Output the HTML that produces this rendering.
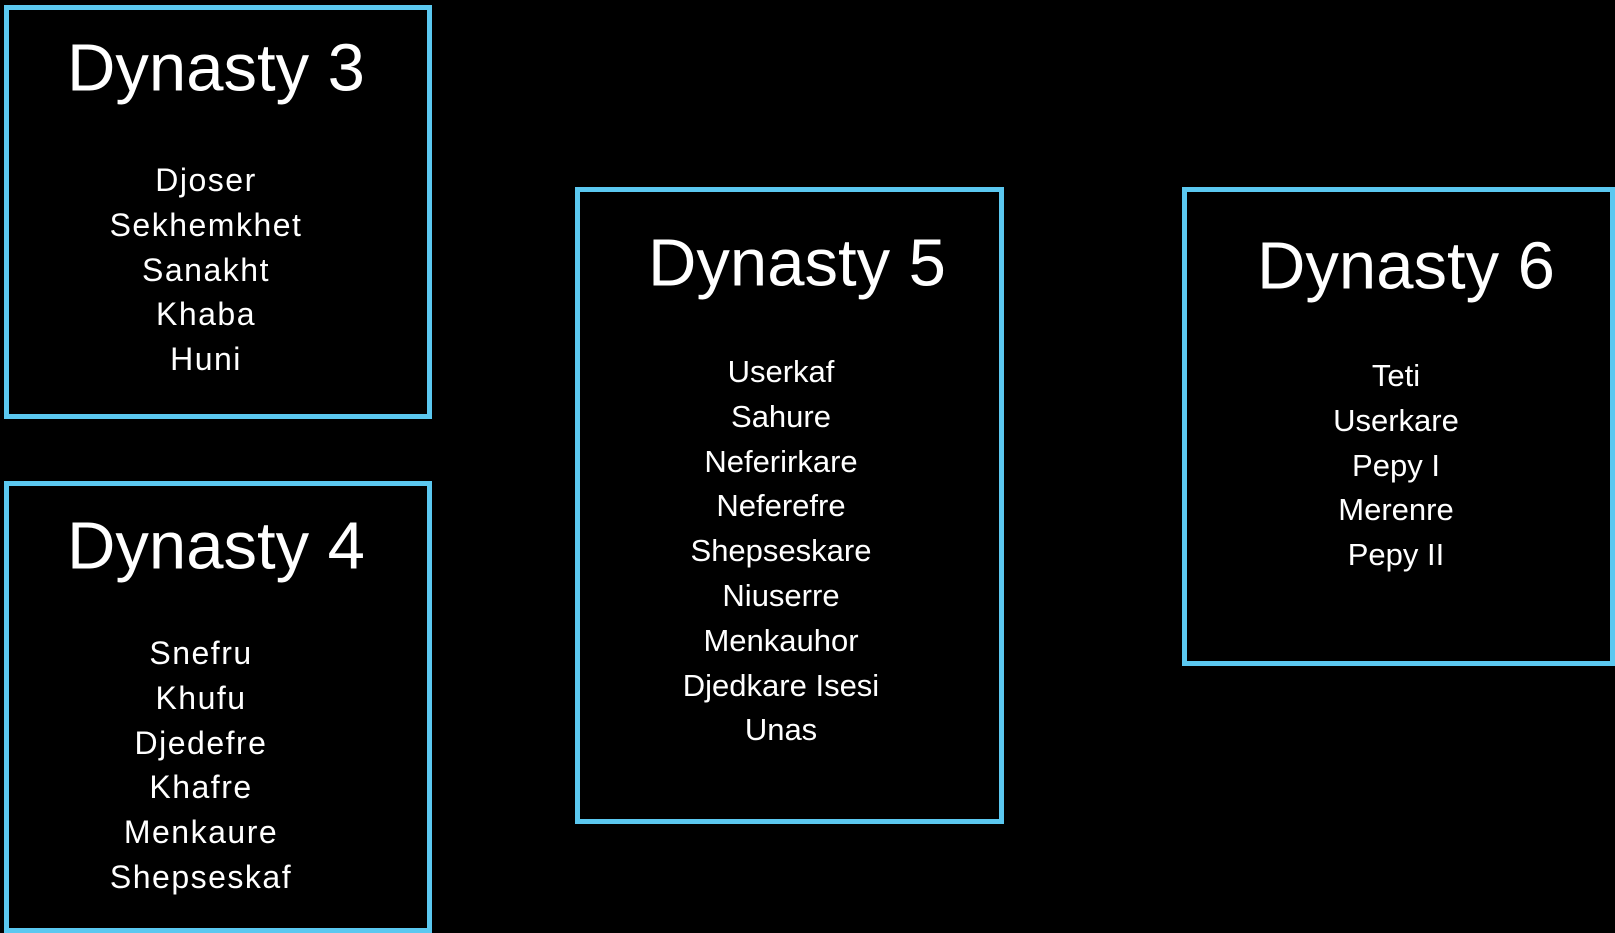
<!DOCTYPE html>
<html><head><style>
body{margin:0;width:1615px;height:933px;background:#000;overflow:hidden;position:relative;font-family:"Liberation Sans",sans-serif;color:#fff}
.b{position:absolute;border:5px solid #5BC8F0;box-sizing:border-box}
.t{position:absolute;width:600px;text-align:center;font-size:67px;line-height:1;transform:translate(-50%,-50%)}
.n{position:absolute;width:400px;text-align:center;font-size:31px;line-height:44.8px;transform:translateX(-50%)}
.w{letter-spacing:1.5px;font-size:32px}
</style></head><body>
<div class="b" style="left:4px;top:5px;width:428px;height:414px"></div>
<div class="b" style="left:4px;top:481px;width:428px;height:452px"></div>
<div class="b" style="left:575px;top:187px;width:429px;height:637px"></div>
<div class="b" style="left:1182px;top:187px;width:433px;height:479px"></div>

<div class="t" style="left:216px;top:68px">Dynasty 3</div>
<div class="n w" style="left:206px;top:158px">Djoser<br>Sekhemkhet<br>Sanakht<br>Khaba<br>Huni</div>

<div class="t" style="left:216px;top:546px">Dynasty 4</div>
<div class="n w" style="left:201px;top:631px">Snefru<br>Khufu<br>Djedefre<br>Khafre<br>Menkaure<br>Shepseskaf</div>

<div class="t" style="left:797px;top:263px">Dynasty 5</div>
<div class="n" style="left:781px;top:350px">Userkaf<br>Sahure<br>Neferirkare<br>Neferefre<br>Shepseskare<br>Niuserre<br>Menkauhor<br>Djedkare Isesi<br>Unas</div>

<div class="t" style="left:1406px;top:266px">Dynasty 6</div>
<div class="n" style="left:1396px;top:354px">Teti<br>Userkare<br>Pepy I<br>Merenre<br>Pepy II</div>
</body></html>
